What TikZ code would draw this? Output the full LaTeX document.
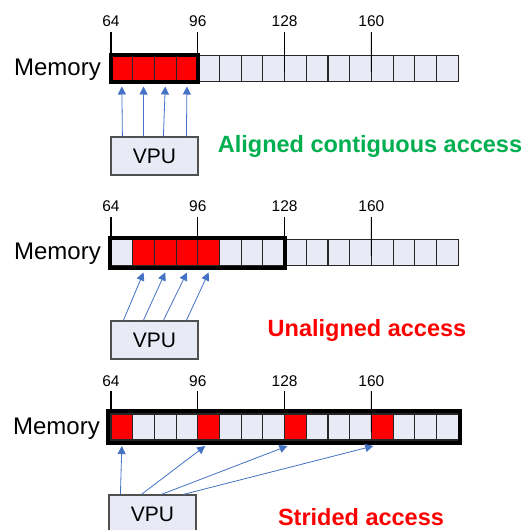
\documentclass[tikz,border=0pt]{standalone}
\usepackage{fontspec}
\setmainfont{Liberation Sans}
\usetikzlibrary{arrows.meta,calc}
\definecolor{cellfill}{RGB}{232,235,245}
\definecolor{arrblue}{RGB}{68,114,196}
\definecolor{okgreen}{RGB}{0,176,80}
\definecolor{hotred}{RGB}{255,0,0}
\definecolor{boxgray}{RGB}{80,80,80}
\begin{document}
\begin{tikzpicture}[x=1pt,y=-1pt,
  cell/.style={draw=black!85,line width=1.1pt,fill=cellfill,minimum width=21.7pt,minimum height=26pt,inner sep=0pt,outer sep=0pt},
  hot/.style={cell,fill=hotred},
  thickbox/.style={draw=black,line width=4pt},
  tick/.style={draw=black,line width=1.1pt},
  numlbl/.style={font=\fontsize{15.5}{15.5}\selectfont,anchor=south,inner sep=0pt},
  memlbl/.style={font=\fontsize{24}{24}\selectfont,anchor=east,inner sep=0pt},
  vpu/.style={draw=boxgray,line width=1.2pt,fill=cellfill,minimum width=87pt,minimum height=38pt,inner sep=0pt,font=\fontsize{21}{21}\selectfont},
  arr/.style={draw=arrblue,line width=0.8pt,-{Triangle[width=8pt,length=8pt]}},
  title/.style={font=\bfseries\fontsize{23.5}{24}\selectfont,inner sep=0pt}
]
\useasboundingbox[fill=white] (0,0) rectangle (531,530);

% ---------------- Panel 1 ----------------
\foreach \i in {0,...,15} {
  \node[cell] (a\i) at ({121.85+21.7*\i},68.5) {};
}
\foreach \i in {0,...,3} {
  \node[hot] (ar\i) at ({121.85+21.7*\i},68.5) {};
}
\draw[thickbox] ([yshift=1pt]a0.north west) rectangle (a3.south east);
\foreach \k/\v in {0/64,1/96,2/128,3/160} {
  \coordinate (at\k) at ({111+86.8*\k},32);
  \node[numlbl] (an\k) at ({111+86.8*\k},27) {\v};
}
\coordinate (ab0) at (111,53);
\coordinate (ab1) at (197.8,53);
\coordinate (ab2) at (284.6,72);
\coordinate (ab3) at (371.4,72);
\foreach \k in {0,...,3} { \draw[tick] (at\k) -- (ab\k); }
\node[memlbl] (amem) at (101,70) {Memory};
\node[vpu] (av) at (154.5,156) {VPU};
\foreach \s/\c in {12/0,33/1,53/2,76/3} {
  \draw[arr] ([xshift=\s pt]av.north west) -- ([yshift=-5pt]ar\c.south);
}
\node[title,text=okgreen] (at) at (370,146) {Aligned contiguous access};

% ---------------- Panel 2 ----------------
\foreach \i in {0,...,15} {
  \node[cell] (b\i) at ({121.85+21.7*\i},252.5) {};
}
\foreach \i in {1,...,4} {
  \node[hot] (br\i) at ({121.85+21.7*\i},252.5) {};
}
\draw[thickbox] ([xshift=-1.5pt,yshift=2pt]b0.north west) rectangle ([yshift=-2pt]b7.south east);
\foreach \k/\v in {0/64,1/96,2/128,3/160} {
  \coordinate (bt\k) at ({111+86.8*\k},217);
  \node[numlbl] (bn\k) at ({111+86.8*\k},212) {\v};
}
\coordinate (bb0) at (111,236);
\coordinate (bb1) at (197.8,236);
\coordinate (bb2) at (284.6,256);
\coordinate (bb3) at (371.4,256);
\foreach \k in {0,...,3} { \draw[tick] (bt\k) -- (bb\k); }
\node[memlbl] (bmem) at (101,254) {Memory};
\node[vpu] (bv) at (154.5,340) {VPU};
\foreach \s/\c in {13/1,33/2,53/3,76/4} {
  \draw[arr] ([xshift=\s pt]bv.north west) -- ([yshift=-7pt]br\c.south);
}
\node[title,text=hotred] (bt) at (367,330) {Unaligned access};

% ---------------- Panel 3 ----------------
\foreach \i in {0,...,15} {
  \node[cell] (c\i) at ({121.85+21.7*\i},427) {};
}
\foreach \i in {0,4,8,12} {
  \node[hot] (cr\i) at ({121.85+21.7*\i},427) {};
}
\draw[thickbox] ([xshift=-3pt,yshift=3pt]c0.north west) rectangle ([xshift=2pt,yshift=-3pt]c15.south east);
\foreach \k/\v in {0/64,1/96,2/128,3/160} {
  \coordinate (ct\k) at ({111+86.8*\k},391);
  \node[numlbl] (cn\k) at ({111+86.8*\k},387) {\v};
}
\coordinate (cb0) at (111,411);
\coordinate (cb1) at (197.8,411);
\coordinate (cb2) at (284.6,411);
\coordinate (cb3) at (371.4,432);
\foreach \k in {0,...,3} { \draw[tick] (ct\k) -- (cb\k); }
\node[memlbl] (cmem) at (100,429) {Memory};
\node[vpu] (cv) at (152.5,514) {VPU};
\draw[arr] ([xshift=12pt]cv.north west) -- ([yshift=-6pt]cr0.south);
\draw[arr] ([xshift=33pt]cv.north west) -- ([xshift=-3.5pt,yshift=-6pt]cr4.south);
\draw[arr] ([xshift=53pt]cv.north west) -- ([xshift=-8pt,yshift=-6pt]cr8.south);
\draw[arr] ([xshift=75pt]cv.north west) -- ([xshift=-9pt,yshift=-6pt]cr12.south);
\node[title,text=hotred] (ctl) at (361,517) {Strided access};
\end{tikzpicture}
\end{document}
